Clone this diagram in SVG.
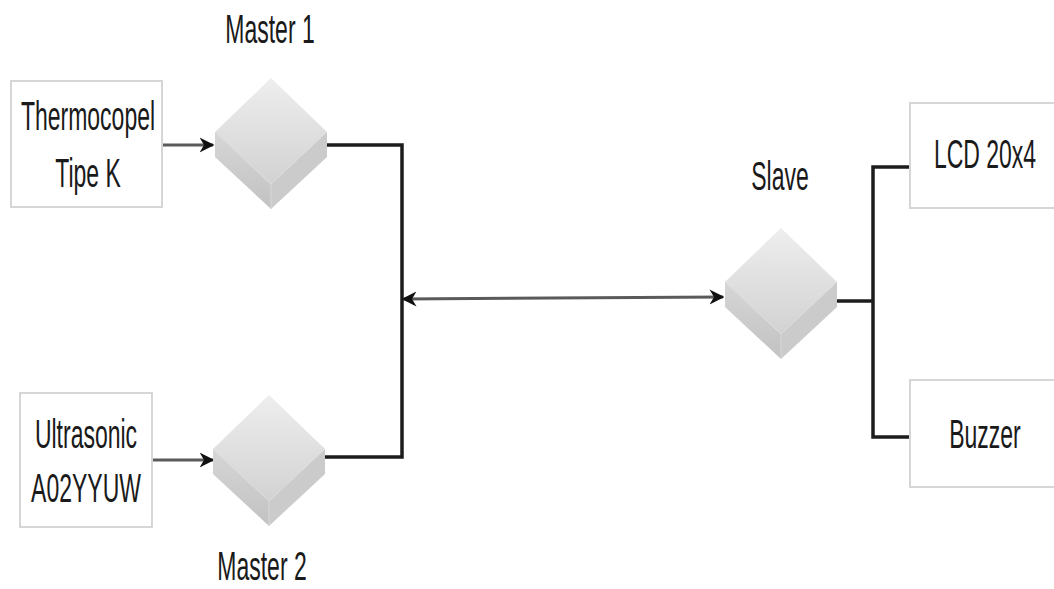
<svg xmlns="http://www.w3.org/2000/svg" width="1054" height="589" viewBox="0 0 1054 589">
  <style>
    .box { fill: #ffffff; stroke: #d6d6d6; stroke-width: 2; }
    .lbl { font-family: "Liberation Sans", Arial, sans-serif; font-size: 23px; fill: #1a1a1a; text-anchor: middle; }
    .wire { fill: none; stroke: #1c1c1c; stroke-width: 3.5; }
    .feed { fill: none; stroke: #5a5a5a; stroke-width: 3; }
  </style>
  <defs>
    <linearGradient id="topFace" x1="0" y1="0" x2="0" y2="1">
      <stop offset="0" stop-color="#eeeeee"/>
      <stop offset="1" stop-color="#d2d2d2"/>
    </linearGradient>
    <linearGradient id="sideFace" x1="0" y1="0" x2="0" y2="1">
      <stop offset="0" stop-color="#d6d6d6"/>
      <stop offset="1" stop-color="#c2c2c2"/>
    </linearGradient>
    <marker id="head" viewBox="0 0 10 10" refX="9" refY="5" markerWidth="5" markerHeight="5.5" orient="auto-start-reverse" markerUnits="strokeWidth">
      <path d="M0,0 L10,5 L0,10 L3,5 Z" fill="#111111"/>
    </marker>
    <!-- isometric cube block used for the controllers -->
    <g id="cube">
      <path d="M0,0 L56,54 L0,106 L-56,54 Z" fill="url(#topFace)"/>
      <path d="M-56,54 L0,106 L0,131 L-56,79 Z" fill="url(#sideFace)"/>
      <path d="M56,54 L0,106 L0,131 L56,79 Z" fill="#cbcbcb"/>
      <path d="M-56,54 L0,106 L56,54" fill="none" stroke="#dcdcdc" stroke-width="1"/>
      <path d="M0,106 L0,131" fill="none" stroke="#d8d8d8" stroke-width="1"/>
    </g>
  </defs>

  <rect width="1054" height="589" fill="#ffffff"/>

  <g id="connectors">
    <line class="feed" x1="162" y1="145" x2="213" y2="145" marker-end="url(#head)"/>
    <line class="feed" x1="152" y1="460" x2="213" y2="460" marker-end="url(#head)"/>
    <polyline class="wire" points="327,145 402,145 402,457 325,457"/>
    <line class="feed" x1="403" y1="299" x2="723" y2="297" stroke="#333333" marker-start="url(#head)" marker-end="url(#head)"/>
    <polyline class="wire" points="837,301 873,301"/>
    <polyline class="wire" points="910,167 873,167 873,437 910,437"/>
  </g>

  <g id="thermocouple">
    <rect class="box" x="11" y="81" width="151" height="126"/>
    <text class="lbl" transform="translate(88,130) scale(1,1.8)">Thermocopel</text>
    <text class="lbl" transform="translate(88,187) scale(1,1.8)">Tipe K</text>
  </g>

  <g id="ultrasonic">
    <rect class="box" x="20" y="393" width="132" height="134"/>
    <text class="lbl" transform="translate(86,448) scale(1,1.8)">Ultrasonic</text>
    <text class="lbl" transform="translate(86,502) scale(1,1.8)">A02YYUW</text>
  </g>

  <g id="master1">
    <use href="#cube" x="271" y="78"/>
    <text class="lbl" transform="translate(270,43) scale(1,1.8)">Master 1</text>
  </g>

  <g id="master2">
    <use href="#cube" x="269" y="395"/>
    <text class="lbl" transform="translate(262,580) scale(1,1.8)">Master 2</text>
  </g>

  <g id="slave">
    <use href="#cube" x="781" y="228"/>
    <text class="lbl" transform="translate(780,190) scale(1,1.8)">Slave</text>
  </g>

  <g id="lcd">
    <rect class="box" x="910" y="103" width="160" height="105"/>
    <text class="lbl" transform="translate(985,168) scale(1,1.8)">LCD 20x4</text>
  </g>

  <g id="buzzer">
    <rect class="box" x="910" y="380" width="160" height="107"/>
    <text class="lbl" transform="translate(985,448) scale(1,1.8)">Buzzer</text>
  </g>
</svg>
